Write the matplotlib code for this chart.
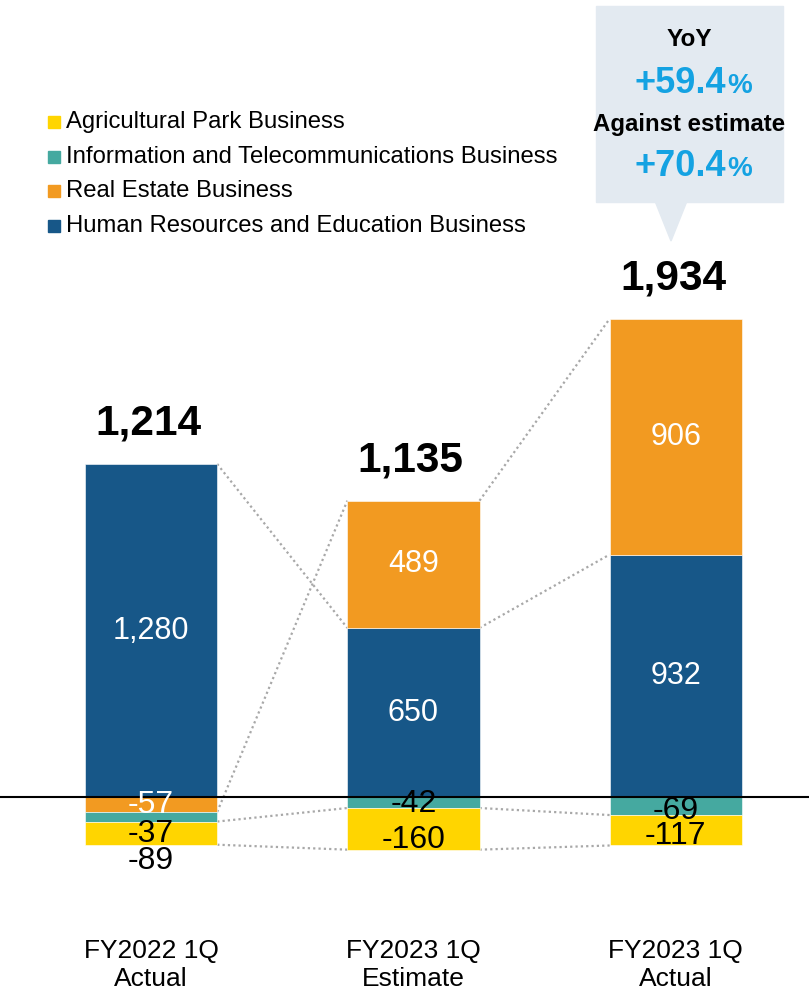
import matplotlib
matplotlib.use('Agg')
import matplotlib.pyplot as plt
from matplotlib.patches import Rectangle, Polygon
import numpy as np

plt.rcParams['font.family'] = ['Liberation Sans', 'DejaVu Sans']

# data
categories = ['FY2022 1Q\nActual', 'FY2023 1Q\nEstimate', 'FY2023 1Q\nActual']
series_names = ['Human Resources and Education Business', 'Real Estate Business',
                'Information and Telecommunications Business', 'Agricultural Park Business']
hr = [1280, 650, 932]
real_estate = [-57, 489, 906]
info = [-37, -42, -69]
agri = [-89, -160, -117]
totals = ['1,214', '1,135', '1,934']
yoy = '+59.4'
vs_estimate = '+70.4'

colors = ['#175788', '#F29A21', '#45A9A0', '#FFD500']
series = [hr, real_estate, info, agri]

# where the negative labels sit (the original nudges them around)
neg_label_y = {(1, 0): -31, (2, 0): -142, (3, 0): -246,
               (2, 1): -27, (3, 1): -165,
               (2, 2): -54, (3, 2): -150}

W, H = 809, 992
fig = plt.figure(figsize=(W / 100, H / 100), dpi=100)
ax = fig.add_axes([0, 0, 1, 1])
ax.set_xlim(-0.576, 2.508)
ax.set_ylim(-749, 3063)
ax.axis('off')

def fx(px):
    return px / W

def fy(py):
    return 1 - py / H

def py2data(py):
    lo, hi = ax.get_ylim()
    return hi - py / H * (hi - lo)

x = np.arange(len(categories))
bw = 0.504
pos_base = np.zeros(3)
neg_base = np.zeros(3)
edges = []
for s, vals in enumerate(series):
    vals = np.array(vals, dtype=float)
    bottoms = np.where(vals >= 0, pos_base, neg_base)
    ax.bar(x, vals, bw, bottom=bottoms, color=colors[s], edgecolor='white',
           linewidth=0.4, zorder=2)
    edge = bottoms + vals
    edges.append(edge)
    for i, v in enumerate(vals):
        if v >= 0:
            ax.text(x[i], bottoms[i] + v / 2, f'{int(v):,}', ha='center', va='center',
                    color='white', fontsize=22, zorder=4)
        else:
            col = 'white' if s == 1 else 'black'
            ax.text(x[i], neg_label_y[(s, i)], f'{int(v)}', ha='center', va='center',
                    color=col, fontsize=23, zorder=4)
    pos_base = np.where(vals >= 0, edge, pos_base)
    neg_base = np.where(vals < 0, edge, neg_base)

# dotted connectors between bars
for edge in edges:
    for i in range(len(x) - 1):
        ax.plot([x[i] + bw / 2, x[i + 1] - bw / 2], [edge[i], edge[i + 1]],
                color='#A8A8A8', lw=1.6, dashes=(1, 1.4), zorder=1)

ax.axhline(0, color='black', lw=1.5, zorder=3)

# totals above bars
for i, t in enumerate(totals):
    ax.annotate(t, (x[i], pos_base[i]), xytext=(-2, 29), textcoords='offset points',
                ha='center', va='center', fontsize=30.5, fontweight='bold')

# category labels
for i, c in enumerate(categories):
    ax.text(x[i], py2data(965), c, ha='center', va='center', fontsize=19,
            linespacing=1.2)

# legend
leg_rows = [122, 157, 191, 226]
for row, s in zip(leg_rows, [3, 2, 1, 0]):
    ax.add_patch(Rectangle((fx(48), fy(row + 6)), 12 / W, 12 / H, transform=ax.transAxes,
                           color=colors[s], clip_on=False))
    ax.text(fx(66), fy(row), series_names[s], transform=ax.transAxes, ha='left',
            va='center', fontsize=17.2)

# callout box
box_c = '#E3EAF1'
ax.add_patch(Rectangle((fx(596), fy(202)), (783 - 596) / W, (202 - 6) / H,
                       transform=ax.transAxes, color=box_c, clip_on=False, zorder=5))
ax.add_patch(Polygon([(fx(655), fy(201)), (fx(687), fy(201)), (fx(671), fy(241))],
                     closed=True, transform=ax.transAxes, color=box_c, clip_on=False, zorder=5))
blue = '#14A2E2'
cx = fx(689)
ax.text(cx, fy(39), 'YoY', transform=ax.transAxes, ha='center', va='center',
        fontsize=17.5, fontweight='bold', zorder=6)
ax.text(cx, fy(125), 'Against estimate', transform=ax.transAxes, ha='center', va='center',
        fontsize=17.3, fontweight='bold', zorder=6)
for val, base in [(yoy, 93), (vs_estimate, 176)]:
    ax.text(fx(726), fy(base), val, transform=ax.transAxes, ha='right', va='baseline',
            fontsize=26, fontweight='bold', color=blue, zorder=6)
    ax.text(fx(727), fy(base), '%', transform=ax.transAxes, ha='left', va='baseline',
            fontsize=20, fontweight='bold', color=blue, zorder=6)

fig.savefig('out.png', dpi=100)
